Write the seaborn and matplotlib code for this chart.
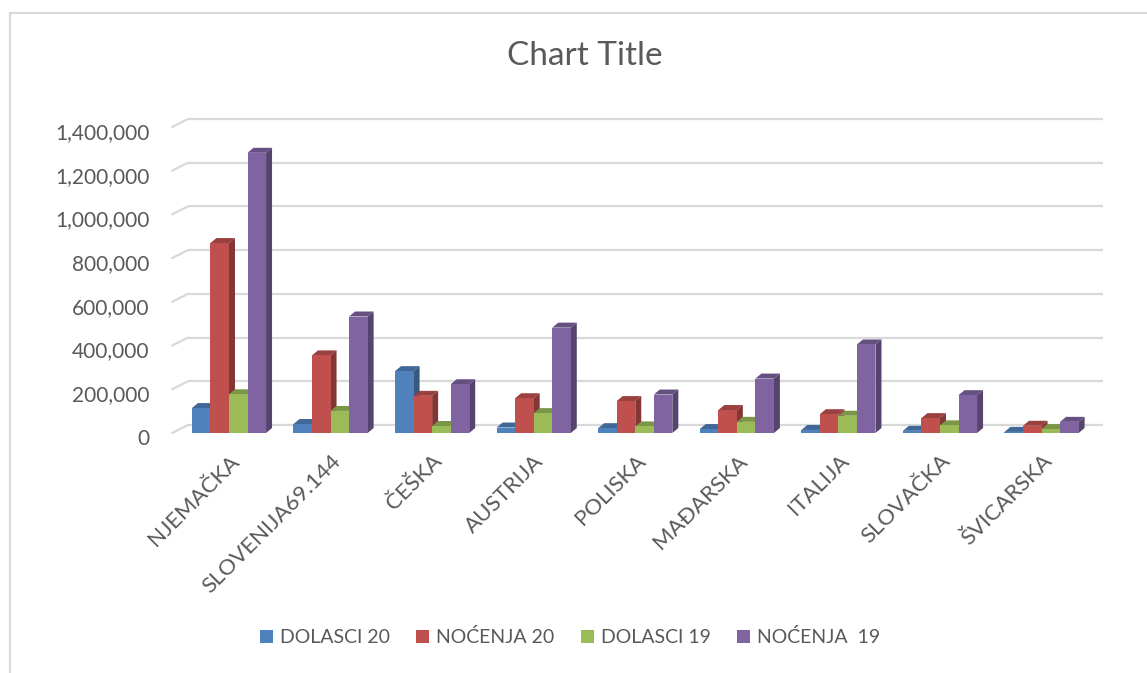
import numpy as np
import pandas as pd
import matplotlib
matplotlib.use("Agg")
import matplotlib.pyplot as plt
import seaborn as sns
from matplotlib.patches import Polygon, Rectangle, Patch
from matplotlib.colors import to_rgb
from matplotlib.transforms import ScaledTranslation

# ---- data ----
countries = ["NJEMAČKA", "SLOVENIJA69.144", "ČEŠKA", "AUSTRIJA", "POLISKA",
             "MAĐARSKA", "ITALIJA", "SLOVAČKA", "ŠVICARSKA"]
series_names = ["DOLASCI 20", "NOĆENJA 20", "DOLASCI 19", "NOĆENJA  19"]
dolasci_20 = [114000, 41000, 283000, 25000, 22000, 18000, 14000, 10000, 5000]
nocenja_20 = [869000, 355000, 170000, 159000, 146000, 105000, 86000, 68000, 33000]
dolasci_19 = [177000, 101000, 32000, 91000, 30000, 51000, 79000, 35000, 18000]
nocenja_19 = [1282000, 533000, 223000, 482000, 176000, 249000, 405000, 173000, 51000]
colors = ["#4F81BD", "#C0504D", "#9BBB59", "#8064A2"]
y_ticks = [0, 200000, 400000, 600000, 800000, 1000000, 1200000, 1400000]

df = pd.DataFrame({
    "country": countries * 4,
    "series": sum([[s] * len(countries) for s in series_names], []),
    "value": dolasci_20 + nocenja_20 + dolasci_19 + nocenja_19,
})

sns.set_style("white")
plt.rcParams["font.family"] = ["Lato", "DejaVu Sans"]
TXT = "#595959"

W, H = 1147, 673
fig = plt.figure(figsize=(W / 100, H / 100), dpi=100)
ax_l, ax_r, ax_b, ax_t = 172, 1103, 433, 127
ax = fig.add_axes([ax_l / W, 1 - ax_b / H, (ax_r - ax_l) / W, (ax_b - ax_t) / H])

sns.barplot(data=df, x="country", y="value", hue="series", hue_order=series_names,
            palette=colors, saturation=1, width=0.73, ax=ax, linewidth=0)

x0, x1 = -0.561, 8.605
ymax = 1400000
ax.set_xlim(x0, x1)
ax.set_ylim(0, ymax)
px_x = (ax_r - ax_l) / (x1 - x0)
px_y = (ax_b - ax_t) / ymax

if ax.get_legend() is not None:
    ax.get_legend().remove()

# pseudo-3D faces
bars = [b for c in ax.containers for b in c]
bars.sort(key=lambda b: b.get_x())
ddx, ddy = 6 / px_x, 5 / px_y
for k, b in enumerate(bars):
    bx, bw, bh = b.get_x(), b.get_width(), b.get_height()
    base = np.array(to_rgb(b.get_facecolor()))
    b.set_zorder(3 + (2 * k + 1) * 0.001)
    top = Polygon([(bx, bh), (bx + ddx, bh + ddy), (bx + bw + ddx, bh + ddy), (bx + bw, bh)],
                  closed=True, facecolor=base * 0.8, edgecolor="none",
                  zorder=3 + 2 * k * 0.001)
    side = Polygon([(bx + bw, 0), (bx + bw, bh), (bx + bw + ddx, bh + ddy), (bx + bw + ddx, ddy)],
                   closed=True, facecolor=base * 0.68, edgecolor="none",
                   zorder=3 + 2 * k * 0.001)
    ax.add_patch(top)
    ax.add_patch(side)

# back-wall gridlines with slanted floor connectors
gx, gy = 16 / px_x, 8 / px_y
for v in y_ticks:
    ax.plot([x0 + gx, x1], [v + gy, v + gy], color="#d9d9d9", lw=1.6, zorder=1, clip_on=False,
            solid_capstyle="butt")
    ax.plot([x0, x0 + gx], [v, v + gy], color="#d9d9d9", lw=1.6, zorder=1, clip_on=False)

ax.set_yticks(y_ticks)
ax.set_yticklabels([f"{v:,}" for v in y_ticks])
ax.tick_params(axis="y", length=0, pad=16, labelsize=15, labelcolor=TXT)
ax.tick_params(axis="x", length=0, pad=13, labelsize=16, labelcolor=TXT)
shift = ScaledTranslation(0, -4 / 100, fig.dpi_scale_trans)
for lab in ax.get_yticklabels():
    lab.set_transform(lab.get_transform() + shift)
for lab in ax.get_xticklabels():
    lab.set_rotation(45)
    lab.set_ha("right")
    lab.set_va("top")
    lab.set_rotation_mode("anchor")
ax.set_xlabel("")
ax.set_ylabel("")
ax.grid(False)
for s in ax.spines.values():
    s.set_visible(False)
ax.patch.set_alpha(0)

# title
fig.text(585 / W, 1 - 56 / H, "Chart Title", ha="center", va="center", fontsize=24, color=TXT)

# legend
leg_handles = [Patch(facecolor=c, edgecolor="none") for c in colors]
fig.legend(leg_handles, series_names, loc="center", bbox_to_anchor=(570 / W, 1 - 637 / H),
           ncol=4, frameon=False, fontsize=14, labelcolor=TXT, handlelength=0.67,
           handleheight=0.67, handletextpad=0.35, columnspacing=1.35)

# chart border
fig.patches.append(Rectangle((10 / W, -0.1), 1.2, 1.1 - 13 / H, transform=fig.transFigure,
                             fill=False, edgecolor="#d9d9d9", lw=1.5, zorder=0))

fig.savefig("out.png", dpi=100, facecolor="white")
